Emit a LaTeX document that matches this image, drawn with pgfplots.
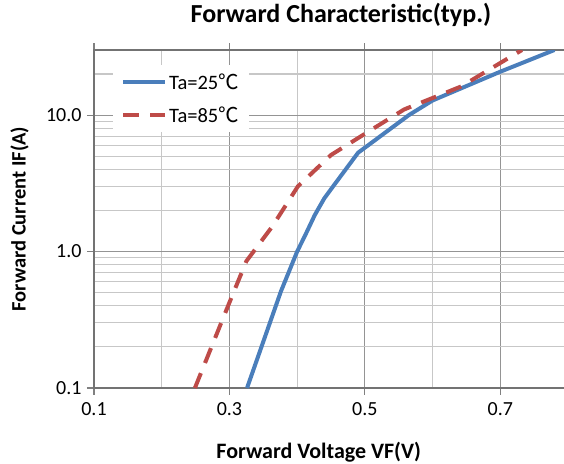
\documentclass[border=0pt]{standalone}
\usepackage{fontspec}
\setmainfont{Carlito}
\newfontfamily\cjk{Noto Sans CJK SC}
\usepackage{pgfplots}
\pgfplotsset{compat=1.18}
\definecolor{s1}{HTML}{4A7EBB}
\definecolor{s2}{HTML}{BE4B48}
\begin{document}
\begin{tikzpicture}
\useasboundingbox (-94pt,-75pt) rectangle (470pt,388pt);
\begin{axis}[
  scale only axis, width=474pt, height=338pt,
  at={(0,0)}, anchor=south west,
  xmin=0.1, xmax=0.8,
  ymode=log, ymin=0.1, ymax=30,
  xtick={0.1,0.3,0.5,0.7}, xticklabels={0.1,0.3,0.5,0.7},
  minor xtick={0.2,0.4,0.6,0.8},
  ytick={0.1,1,10}, yticklabels={0.1,1.0,10.0},
  minor ytick={0.2,0.3,0.4,0.5,0.6,0.7,0.8,0.9,2,3,4,5,6,7,8,9,20,30},
  grid=both,
  major grid style={black!42, line width=1.1pt},
  minor grid style={black!22, line width=1.1pt},
  axis line style={black!55, line width=1.1pt},
  tick align=outside, major tick length=7pt, minor tick length=0pt,
  tick style={black!50, line width=1.1pt},
  /pgf/number format/assume math mode=true,
  ticklabel style={font=\fontsize{20}{24}\selectfont},
  xticklabel style={yshift=-4pt},
  yticklabel style={xshift=-2pt},
  title={Forward Characteristic(typ.)},
  title style={at={(axis description cs:0.521,1.085)}, anchor=center, font=\bfseries\fontsize{26}{30}\selectfont},
  xlabel={Forward Voltage VF(V)},
  xlabel style={at={(axis description cs:0.474,-0.19)}, anchor=center, font=\bfseries\fontsize{22}{26}\selectfont},
  ylabel={Forward Current IF(A)},
  ylabel style={at={(axis description cs:-0.157,0.5)}, anchor=center, rotate=0, font=\bfseries\fontsize{20.5}{24}\selectfont},
  legend style={at={(axis description cs:0.04,0.955)}, anchor=north west, draw=none, fill=white,
    font=\fontsize{20.5}{24}\selectfont, row sep=12pt, inner xsep=8pt, inner ysep=6pt},
  legend cell align=left,
  legend image code/.code={\draw[#1] (0pt,0pt) -- (42pt,0pt);},
]
\addplot[s1, line width=4pt] coordinates {
  (0.326,0.1) (0.376,0.51) (0.400,1.0) (0.412,1.32) (0.426,1.85) (0.440,2.45) (0.453,3.0)
  (0.490,5.3) (0.565,10) (0.600,12.8) (0.700,20.8) (0.780,30)
};
\addlegendentry{Ta=25{\cjk ℃}}
\addplot[s2, line width=4pt, dash pattern=on 16pt off 11pt] coordinates {
  (0.249,0.1) (0.298,0.4) (0.325,0.85) (0.363,1.52) (0.401,3.0)
  (0.450,5.1) (0.503,7.45) (0.558,11) (0.642,16.2) (0.732,30)
};
\addlegendentry{Ta=85{\cjk ℃}}
\end{axis}
\end{tikzpicture}
\end{document}
